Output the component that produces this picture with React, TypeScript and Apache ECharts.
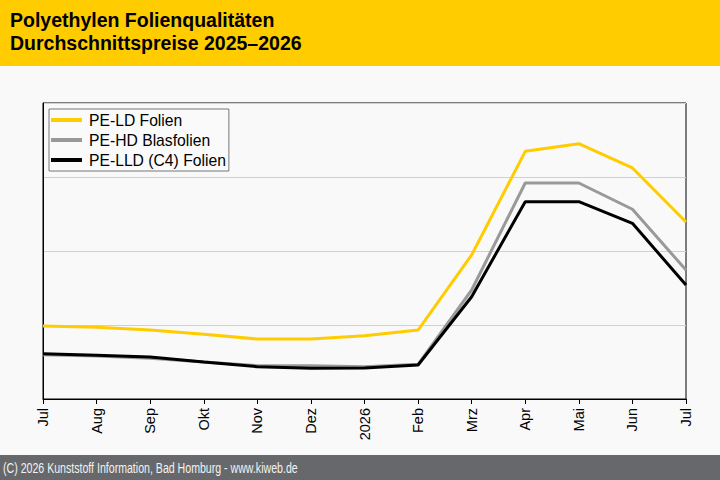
import { useEffect, useRef } from 'react'
import * as echarts from 'echarts'

const months = ['Jul', 'Aug', 'Sep', 'Okt', 'Nov', 'Dez', '2026', 'Feb', 'Mrz', 'Apr', 'Mai', 'Jun', 'Jul']

const peLd = [1098.6, 1096.9, 1093.2, 1087.4, 1081.1, 1081.1, 1085.5, 1093.2, 1194.6, 1334.7, 1345.0, 1312.2, 1239.2]
const peHd = [1059.9, 1058.1, 1055.0, 1050.0, 1045.0, 1045.0, 1043.6, 1046.9, 1147.3, 1291.9, 1291.9, 1256.4, 1174.3]
const peLld = [1061.2, 1059.0, 1056.8, 1050.0, 1043.6, 1041.5, 1041.9, 1045.9, 1138.2, 1266.6, 1266.6, 1237.4, 1154.1]

const titleLines = ['Polyethylen Folienqualitäten', 'Durchschnittspreise 2025–2026']
const footerText = '(C) 2026 Kunststoff Information, Bad Homburg - www.kiweb.de'

const font = '"Liberation Sans", Arial, sans-serif'
const footerFont = `14.5px ${font}`

// footer in the reference is set in a narrow face; squeeze regular text to the same width
function footerScale() {
  const ctx = document.createElement('canvas').getContext('2d')
  if (!ctx) return 0.75
  ctx.font = footerFont
  const w = ctx.measureText(footerText).width
  return w > 0 ? 295 / w : 0.75
}

export default function App() {
  const chartRef = useRef<HTMLDivElement | null>(null)

  useEffect(() => {
    document.body.style.margin = '0'
    if (!chartRef.current) {
      return
    }

    const chart = echarts.init(chartRef.current, null, { renderer: 'svg' })

    const line = (name: string, data: number[], color: string) => ({
      name,
      type: 'line',
      data,
      symbol: 'none',
      lineStyle: { width: 3, color },
      itemStyle: { color },
    })

    chart.setOption({
      animation: false,
      backgroundColor: '#f9f9f9',
      textStyle: { fontFamily: font },
      graphic: [
        {
          type: 'rect',
          shape: { x: 0, y: 0, width: 720, height: 66 },
          style: { fill: '#ffcc00' },
          silent: true,
        },
        {
          type: 'text',
          x: 10,
          y: 8,
          style: {
            text: titleLines.join('\n'),
            font: `bold 19.5px ${font}`,
            lineHeight: 23,
            fill: '#000',
          },
        },
        {
          type: 'rect',
          shape: { x: 0, y: 455, width: 720, height: 25 },
          style: { fill: '#67686c' },
          silent: true,
        },
        {
          type: 'text',
          x: 3,
          y: 468,
          scaleX: footerScale(),
          style: {
            text: footerText,
            font: footerFont,
            fill: '#f2f2f2',
            verticalAlign: 'middle',
          },
        },
      ],
      legend: {
        orient: 'vertical',
        left: 49,
        top: 109,
        padding: [3, 3, 3, 2],
        itemGap: 4,
        itemWidth: 31,
        itemHeight: 4,
        icon: 'rect',
        borderColor: '#777',
        borderWidth: 1,
        backgroundColor: '#fafafa',
        textStyle: { fontSize: 15.7, color: '#000', lineHeight: 16, padding: [0, 0, 0, 2], fontFamily: font },
        data: ['PE-LD Folien', 'PE-HD Blasfolien', 'PE-LLD (C4) Folien'],
      },
      grid: {
        left: 43,
        right: 34,
        top: 103,
        bottom: 81,
        show: true,
        borderColor: '#000',
        borderWidth: 1,
        backgroundColor: 'transparent',
      },
      xAxis: {
        type: 'category',
        data: months,
        boundaryGap: false,
        axisLine: { lineStyle: { color: '#000', width: 1 } },
        axisTick: { show: true, length: 5, interval: 0, lineStyle: { color: '#000' } },
        axisLabel: { rotate: 90, interval: 0, fontSize: 14.5, color: '#000', margin: 9, fontFamily: font },
        splitLine: { show: false },
      },
      yAxis: {
        type: 'value',
        min: 1000,
        max: 1400,
        interval: 100,
        axisLabel: { show: false },
        axisTick: { show: false },
        axisLine: { show: true, lineStyle: { color: '#000' } },
        splitLine: { lineStyle: { color: '#d0d0d0', width: 1 } },
      },
      series: [
        line('PE-LD Folien', peLd, '#ffcc00'),
        line('PE-HD Blasfolien', peHd, '#999999'),
        line('PE-LLD (C4) Folien', peLld, '#000000'),
      ],
    })

    return () => {
      chart.dispose()
    }
  }, [])

  return <div ref={chartRef} style={{ width: 720, height: 480 }} />
}
